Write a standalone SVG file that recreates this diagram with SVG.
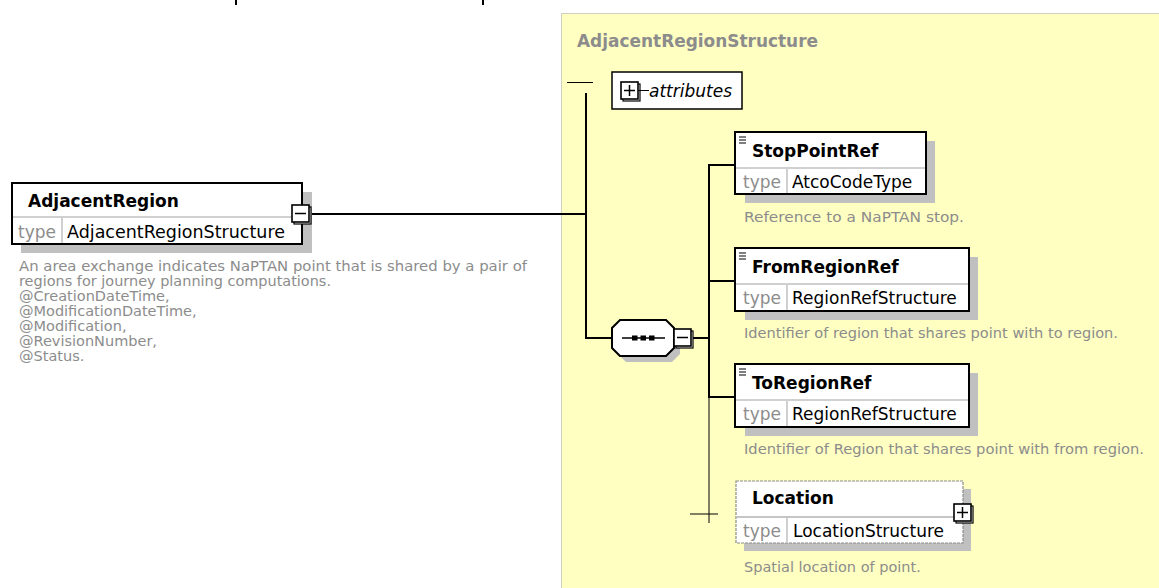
<svg xmlns="http://www.w3.org/2000/svg" width="1159" height="588" viewBox="0 0 1159 588">
<style>
.t{font-family:"DejaVu Sans",sans-serif;}
.name{font-family:"DejaVu Sans",sans-serif;font-weight:bold;font-size:17px;fill:#000;}
.typ{font-family:"DejaVu Sans",sans-serif;font-size:17px;fill:#8c8c8c;}
.val{font-family:"DejaVu Sans",sans-serif;font-size:17px;fill:#000;}
.desc{font-family:"DejaVu Sans",sans-serif;font-size:14.5px;fill:#8c8c8c;}
.box{fill:#fff;stroke:#000;stroke-width:2;}
.obox{fill:#fff;stroke:#8c8c8c;stroke-width:1.2;stroke-dasharray:3,1;}
.shadow{fill:#c0c0c0;}
.div{stroke:#c0c0c0;stroke-width:1.5;}
.ln{stroke:#000;stroke-width:2;fill:none;}
.thin{stroke:#000;stroke-width:1;fill:none;}
.btn{fill:#fff;stroke:#000;stroke-width:1.6;}
</style>
<defs>
<g id="minus">
<rect x="2" y="2" width="17" height="17" fill="#fff" stroke="#000" stroke-width="1.2"/>
<rect x="0" y="0" width="17" height="17" class="btn"/>
<line x1="3" y1="8.5" x2="14" y2="8.5" stroke="#000" stroke-width="1.5"/>
</g>
<g id="plus">
<rect x="2" y="2" width="17" height="17" fill="#fff" stroke="#000" stroke-width="1.2"/>
<rect x="0" y="0" width="17" height="17" class="btn"/>
<line x1="3" y1="8.5" x2="14" y2="8.5" stroke="#000" stroke-width="1.5"/>
<line x1="8.5" y1="3" x2="8.5" y2="14" stroke="#000" stroke-width="1.5"/>
</g>
<g id="seqicon">
<path d="M0,-3 H7 M0,0 H7 M0,3 H7" stroke="#000" stroke-width="1.2"/>
</g>
</defs>

<rect x="235" y="0" width="2" height="5" fill="#000"/>
<rect x="482" y="0" width="2" height="5" fill="#000"/>

<g id="AdjacentRegionStructure">
<rect x="561.5" y="13.5" width="700" height="700" fill="#ffffc2" stroke="#a0a0a0" stroke-width="1" stroke-dasharray="1,1"/>
<text x="577" y="47" class="t" font-weight="bold" font-size="17.5" fill="#8c8c8c" textLength="241" lengthAdjust="spacingAndGlyphs">AdjacentRegionStructure</text>
</g>

<g id="connectors">
<line x1="312" y1="214" x2="586" y2="214" class="ln"/>
<line x1="567" y1="82.5" x2="593" y2="82.5" class="thin" stroke-width="1.5"/>
<line x1="586" y1="93" x2="586" y2="339" class="ln"/>
<line x1="586" y1="338" x2="612" y2="338" class="ln"/>
<line x1="693" y1="338" x2="709" y2="338" class="ln"/>
<line x1="709" y1="164" x2="709" y2="398" class="ln"/>
<line x1="709" y1="165" x2="736" y2="165" class="ln"/>
<line x1="709" y1="281" x2="736" y2="281" class="ln"/>
<line x1="709" y1="397" x2="736" y2="397" class="ln"/>
<line x1="709" y1="397" x2="709" y2="523" class="thin"/>
<line x1="690" y1="514" x2="718" y2="514" class="thin"/>
</g>

<g id="AdjacentRegion">
<rect x="21" y="192" width="291" height="61" class="shadow"/>
<rect x="12" y="183" width="290" height="61" class="box"/>
<line x1="13" y1="217" x2="301" y2="217" class="div"/>
<line x1="62" y1="218" x2="62" y2="243" class="div"/>
<text x="28" y="207" class="name">AdjacentRegion</text>
<text x="18" y="238" class="typ">type</text>
<text x="67" y="238" class="val" textLength="218" lengthAdjust="spacingAndGlyphs">AdjacentRegionStructure</text>
<use href="#minus" x="292" y="205"/>
<text class="desc"><tspan x="19" y="271" textLength="508" lengthAdjust="spacingAndGlyphs">An area exchange indicates NaPTAN point that is shared by a pair of</tspan><tspan x="19" y="286" textLength="312" lengthAdjust="spacingAndGlyphs">regions for journey planning computations.</tspan><tspan x="19" y="301">@CreationDateTime,</tspan><tspan x="19" y="316">@ModificationDateTime,</tspan><tspan x="19" y="331">@Modification,</tspan><tspan x="19" y="346">@RevisionNumber,</tspan><tspan x="19" y="361">@Status.</tspan></text>
</g>

<g id="attributes">
<rect x="612" y="72" width="130" height="37" fill="#fff" stroke="#000" stroke-width="1.5"/>
<use href="#plus" x="621" y="82"/>
<line x1="638" y1="90.5" x2="649" y2="90.5" class="thin" stroke-width="1.5"/>
<text x="649" y="97" class="t" font-style="italic" font-size="17" fill="#000">attributes</text>
</g>

<g id="sequence">
<polygon points="626,326 672,326 680,334 680,354 672,362 626,362 618,354 618,334" class="shadow"/>
<polygon points="620,320 666,320 674,328 674,348 666,356 620,356 612,348 612,328" class="box"/>
<line x1="622" y1="338" x2="665" y2="338" stroke="#000" stroke-width="1.5"/>
<rect x="632" y="335.5" width="5.5" height="5" fill="#000"/>
<rect x="640.5" y="335.5" width="5.5" height="5" fill="#000"/>
<rect x="649" y="335.5" width="5.5" height="5" fill="#000"/>
<use href="#minus" x="674" y="329"/>
</g>

<g id="StopPointRef">
<rect x="745" y="141" width="190" height="62" class="shadow"/>
<rect x="735" y="132" width="191" height="62" class="box"/>
<line x1="736" y1="168" x2="925" y2="168" class="div"/>
<line x1="787" y1="169" x2="787" y2="193" class="div"/>
<use href="#seqicon" x="739" y="140"/>
<text x="752" y="157" class="name">StopPointRef</text>
<text x="743" y="188" class="typ">type</text>
<text x="792" y="188" class="val">AtcoCodeType</text>
<text x="744" y="222" class="desc" textLength="220" lengthAdjust="spacingAndGlyphs">Reference to a NaPTAN stop.</text>
</g>

<g id="FromRegionRef">
<rect x="745" y="257" width="233" height="63" class="shadow"/>
<rect x="735" y="248" width="234" height="63" class="box"/>
<line x1="736" y1="284" x2="968" y2="284" class="div"/>
<line x1="787" y1="285" x2="787" y2="310" class="div"/>
<use href="#seqicon" x="739" y="256"/>
<text x="752" y="273" class="name">FromRegionRef</text>
<text x="743" y="304" class="typ">type</text>
<text x="792" y="304" class="val">RegionRefStructure</text>
<text x="744" y="338" class="desc" textLength="374" lengthAdjust="spacingAndGlyphs">Identifier of region that shares point with to region.</text>
</g>

<g id="ToRegionRef">
<rect x="745" y="373" width="233" height="63" class="shadow"/>
<rect x="735" y="364" width="234" height="63" class="box"/>
<line x1="736" y1="400" x2="968" y2="400" class="div"/>
<line x1="787" y1="401" x2="787" y2="426" class="div"/>
<use href="#seqicon" x="739" y="372"/>
<text x="752" y="389" class="name">ToRegionRef</text>
<text x="743" y="420" class="typ">type</text>
<text x="792" y="420" class="val">RegionRefStructure</text>
<text x="744" y="454" class="desc" textLength="400" lengthAdjust="spacingAndGlyphs">Identifier of Region that shares point with from region.</text>
</g>

<g id="Location">
<rect x="744" y="489" width="227" height="62" class="shadow"/>
<rect x="736" y="481" width="227" height="62" class="obox"/>
<line x1="737" y1="517" x2="962" y2="517" stroke="#8c8c8c" stroke-width="1.2"/>
<line x1="787" y1="518" x2="787" y2="542" class="div"/>
<text x="752" y="504" class="name">Location</text>
<text x="743" y="537" class="typ">type</text>
<text x="793" y="537" class="val">LocationStructure</text>
<use href="#plus" x="954" y="504"/>
<text x="744" y="572" class="desc">Spatial location of point.</text>
</g>
</svg>
